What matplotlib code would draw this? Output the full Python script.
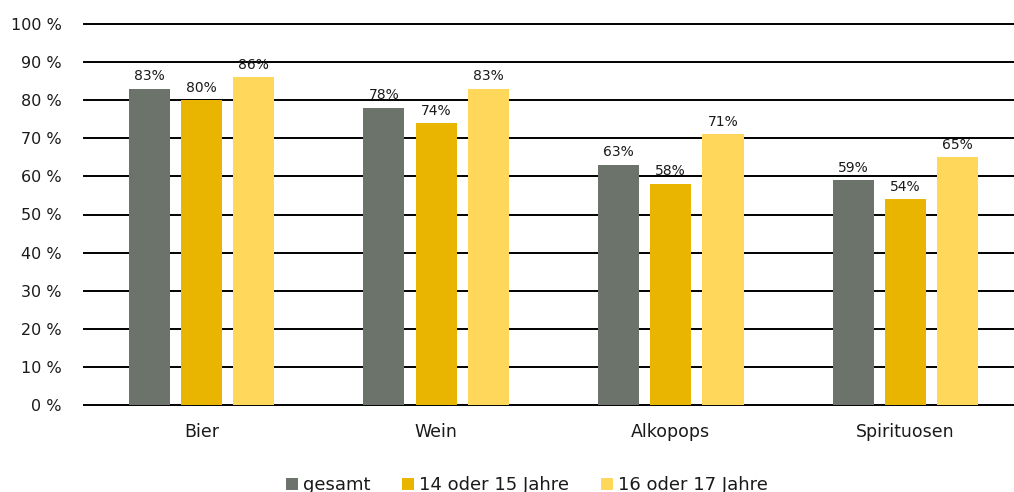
import matplotlib
matplotlib.use("Agg")
import matplotlib.pyplot as plt
import numpy as np

plt.rcParams['font.family'] = ['DejaVu Sans']

categories = ["Bier", "Wein", "Alkopops", "Spirituosen"]
series_names = ["gesamt", "14 oder 15 Jahre", "16 oder 17 Jahre"]
gesamt = [83, 78, 63, 59]
jahre_14_15 = [80, 74, 58, 54]
jahre_16_17 = [86, 83, 71, 65]
y_ticks = [0, 10, 20, 30, 40, 50, 60, 70, 80, 90, 100]
y_ticklabels = [f"{t} %" for t in y_ticks]

colors = ["#6B736A", "#E9B500", "#FFD75A"]

fig = plt.figure(figsize=(10.14, 4.92), dpi=100)
ax = fig.add_axes([84/1014, 87/492, 4*234.7/1014, 381/492])

x = np.arange(len(categories))
bw = 0.175
step = 0.2225
for i, (vals, name, c) in enumerate(zip([gesamt, jahre_14_15, jahre_16_17], series_names, colors)):
    pos = x + (i - 1) * step
    ax.bar(pos, vals, width=bw, color=c, label=name, zorder=3)
    for p, v in zip(pos, vals):
        ax.annotate(f"{v}%", (p, v), xytext=(0, 4), textcoords="offset points",
                    ha="center", va="bottom", fontsize=10, color="#1a1a1a")

for t in y_ticks:
    ax.axhline(t, color="black", lw=1.4, zorder=2, clip_on=False)

ax.set_xlim(-0.5, 3.5)
ax.set_ylim(0, 100)
ax.set_yticks(y_ticks)
ax.set_yticklabels(y_ticklabels, fontsize=11.5, color="#1a1a1a")
ax.set_xticks(x)
ax.set_xticklabels(categories, fontsize=12.5, color="#1a1a1a")
ax.tick_params(axis="y", length=0, pad=16)
ax.tick_params(axis="x", length=0, pad=13)
for s in ax.spines.values():
    s.set_visible(False)

fig.legend(loc="center", bbox_to_anchor=(527/1014, 7/492), ncol=3, frameon=False,
           fontsize=13, handlelength=0.65, handleheight=0.65, columnspacing=1.75,
           handletextpad=0.3, labelcolor="#1a1a1a")

fig.savefig("out.png", dpi=100)
